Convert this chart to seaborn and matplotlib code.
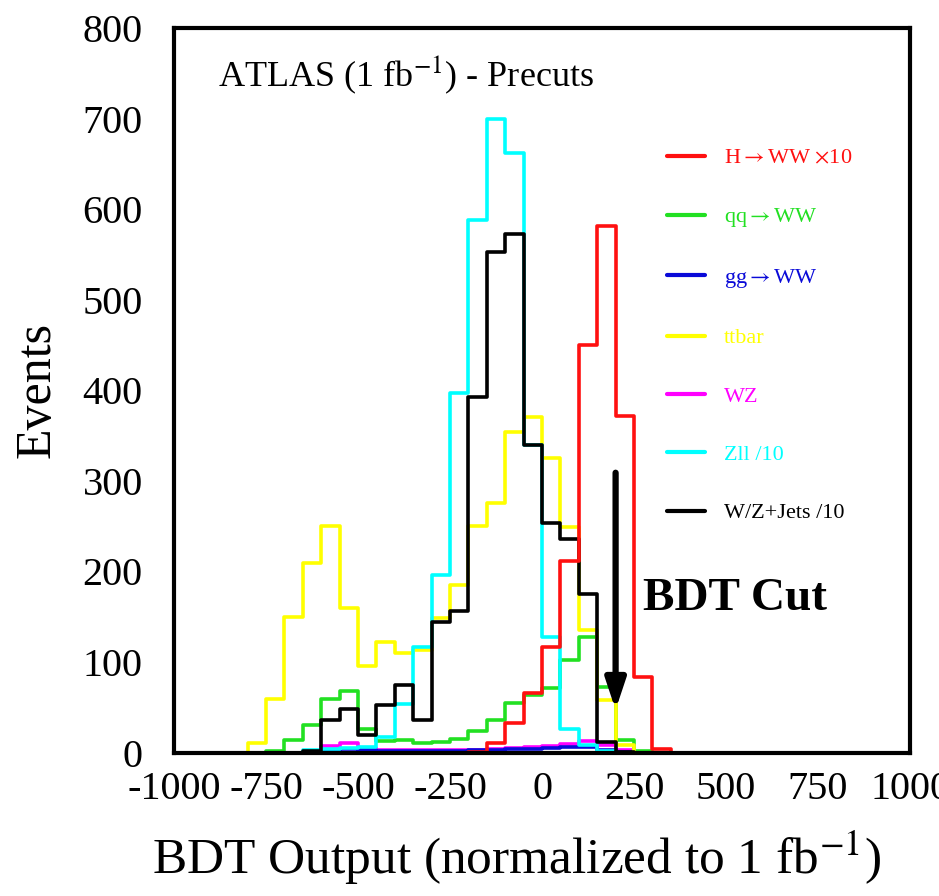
import numpy as np
import pandas as pd
import matplotlib
matplotlib.use("Agg")
import matplotlib.pyplot as plt
from matplotlib.lines import Line2D
from matplotlib.ticker import MultipleLocator
import seaborn as sns

# ---------------- data ----------------
bin_left = [-800, -750, -700, -650, -600, -550, -500, -450, -400, -350, -300, -250,
            -200, -150, -100, -50, 0, 50, 100, 150, 200, 250, 300]
bin_width = 50

h_ww_x10 = [0, 0, 0, 0, 0, 0, 0, 0, 0, 0, 0, 0,
            1, 11, 33, 66, 117, 211, 450, 581, 372, 83, 4]
qq_ww = [0, 2, 14, 30, 59, 68, 26, 13, 14, 11, 12, 15,
         24, 36, 55, 64, 71, 102, 128, 72, 14, 2, 0]
gg_ww = [0, 0, 0, 1, 2, 4, 3, 2, 2, 2, 2, 2,
         3, 3, 4, 4, 5, 6, 6, 3, 1, 0, 0]
ttbar = [10, 59, 150, 209, 250, 160, 96, 122, 110, 113, 148, 185,
         250, 275, 354, 370, 325, 249, 135, 58, 8, 0, 0]
wz = [0, 0, 0, 1, 7, 10, 5, 3, 3, 3, 3, 3,
      3, 4, 5, 6, 7, 9, 13, 8, 3, 1, 0]
zll_div10 = [0, 0, 0, 3, 4, 5, 6, 17, 54, 116, 196, 397,
             588, 700, 662, 340, 127, 26, 8, 2, 0, 0, 0]
wzjets_div10 = [0, 0, 0, 2, 36, 48, 19, 52, 74, 36, 144, 156,
                392, 553, 573, 339, 253, 236, 175, 12, 1, 0, 0]

labels = ["H$\\rightarrow$WW $\\times$10", "qq$\\rightarrow$WW", "gg$\\rightarrow$WW",
          "ttbar", "WZ", "Zll /10", "W/Z+Jets /10"]
colors = ["#ff1010", "#22e022", "#0a0ad8", "#ffff00", "#ff00ff", "#00ffff", "#000000"]
series = [h_ww_x10, qq_ww, gg_ww, ttbar, wz, zll_div10, wzjets_div10]

x_ticks = [-1000, -750, -500, -250, 0, 250, 500, 750, 1000]
y_ticks = [0, 100, 200, 300, 400, 500, 600, 700, 800]

# ---------------- build long table ----------------
centers = np.array(bin_left) + bin_width / 2
rows = []
for lab, vals in zip(labels, series):
    for c, v in zip(centers, vals):
        rows.append({"bdt": c, "events": v, "sample": lab})
df = pd.DataFrame(rows)
edges = [float(e) for e in np.arange(-1000, 1000 + bin_width, bin_width)]

# ---------------- style ----------------
sns.set_style("white")
plt.rcParams["font.family"] = ["Liberation Serif", "DejaVu Serif"]
plt.rcParams["mathtext.fontset"] = "stix"
plt.rcParams["axes.unicode_minus"] = False
plt.rcParams["text.color"] = "black"
plt.rcParams["axes.labelcolor"] = "black"
plt.rcParams["xtick.labelcolor"] = "black"
plt.rcParams["ytick.labelcolor"] = "black"

fig = plt.figure(figsize=(9.39, 8.96), dpi=100)
ax = fig.add_axes([174 / 939, (896 - 752.5) / 896, 736 / 939, 724.5 / 896])

draw_order = [4, 2, 1, 3, 5, 6, 0]
for i in draw_order:
    sub = df[df["sample"] == labels[i]]
    sns.histplot(data=sub, x="bdt", weights="events", bins=edges,
                 element="step", fill=False, color=colors[i],
                 linewidth=2.6, ax=ax)

ax.set_xlim(-1000, 1000)
ax.set_ylim(0, 800)
ax.set_xticks(x_ticks)
ax.set_yticks(y_ticks)
ax.xaxis.set_minor_locator(MultipleLocator(50))
ax.yaxis.set_minor_locator(MultipleLocator(20))
ax.tick_params(which="major", direction="out", length=10.5, width=1.3,
               labelsize=29, color="#666666", labelcolor="black")
ax.tick_params(which="minor", direction="out", length=6.5, width=1.0, color="#666666")
ax.tick_params(axis="y", which="major", pad=12)
ax.tick_params(axis="x", which="major", pad=3)
for s in ax.spines.values():
    s.set_linewidth(3)
    s.set_color("black")

ax.set_xlabel("BDT Output (normalized to 1 fb$^{-1}$)", fontsize=37, labelpad=16)
ax.xaxis.set_label_coords(0.465, -0.105)
ax.set_ylabel("Events", fontsize=36, labelpad=16)

ax.text(0.06, 0.935, "ATLAS (1 fb$^{-1}$) - Precuts", transform=ax.transAxes,
        fontsize=26, va="center", ha="left")

handles = [Line2D([0], [0], color=c, lw=3) for c in colors]
leg = ax.legend(handles, labels, loc="upper left", bbox_to_anchor=(0.642, 0.862),
                frameon=False, fontsize=16, handlelength=1.75, handletextpad=0.85,
                labelspacing=1.7, labelcolor=colors)

ax.annotate("", xy=(200, 44), xytext=(200, 312),
            arrowprops=dict(arrowstyle="-|>,head_width=0.3,head_length=0.9",
                            lw=4.5, color="black", mutation_scale=20))
ax.text(275, 170, "BDT Cut", fontsize=34, fontweight="bold", va="center", ha="left")

fig.savefig("out.png", dpi=100)
